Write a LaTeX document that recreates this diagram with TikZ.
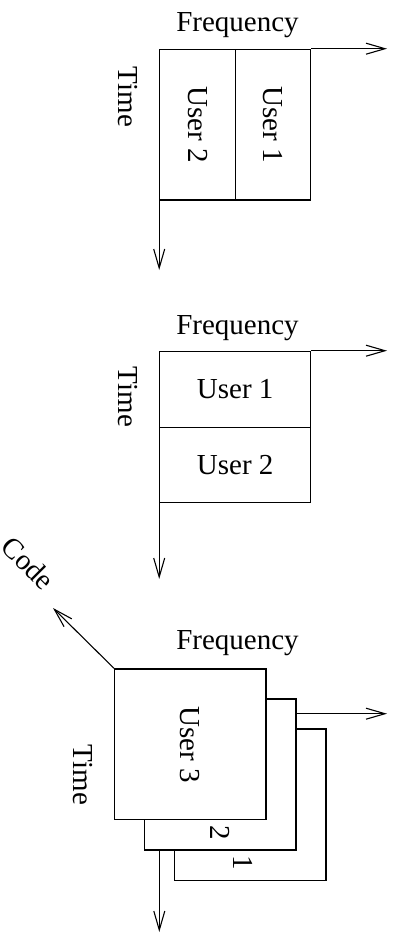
\documentclass[tikz,border=0pt]{standalone}
\usepackage{fontspec}
\setmainfont{Liberation Serif}
\usetikzlibrary{arrows.meta}
\begin{document}
\begin{tikzpicture}[x=1pt,y=-1pt,
  box/.style={draw,line width=1.2pt,fill=white,inner sep=0pt,anchor=north west},
  arr/.style={line width=1.1pt,-{Straight Barb[length=19pt,width=11pt,line width=1.1pt]}},
  lbl/.style={font=\fontsize{29}{32}\selectfont,inner sep=0pt},
  vlbl/.style={lbl,rotate=-90}]
\useasboundingbox (0,0) rectangle (394,934);
% ---------- top: frequency division ----------
\node[box,minimum width=75.5pt,minimum height=150.6pt] (tu2) at (159.2,48.7) {};
\node[box,minimum width=75.5pt,minimum height=150.6pt] (tu1) at (234.7,48.7) {};
\coordinate (tfe) at (387,48.7);
\coordinate (tte) at (159.2,270);
\draw[arr] (tu1.north east) -- (tfe);
\draw[arr] (tu2.south west) -- (tte);
\node[lbl] (tfreq) at (237.5,25) {Frequency};
\node[vlbl] (ttime) at (128,97) {Time};
\node[vlbl] (tl2) at (tu2.center) {User 2};
\node[vlbl] (tl1) at (tu1.center) {User 1};
% ---------- middle: time division ----------
\node[box,minimum width=150.8pt,minimum height=76pt] (mu1) at (159.2,350.7) {};
\node[box,minimum width=150.8pt,minimum height=75pt] (mu2) at (159.2,426.7) {};
\coordinate (mfe) at (387,350.7);
\coordinate (mte) at (159.2,579);
\draw[arr] (mu1.north east) -- (mfe);
\draw[arr] (mu2.south west) -- (mte);
\node[lbl] (mfreq) at (237.5,328) {Frequency};
\node[vlbl] (mtime) at (128,397) {Time};
\node[lbl] (ml1) at (mu1.center) {User 1};
\node[lbl] (ml2) at (mu2.center) {User 2};
% ---------- bottom: code division ----------
\node[box,minimum width=151.3pt,minimum height=151.4pt] (c1) at (174,728.3) {};
\node[box,minimum width=151.3pt,minimum height=151pt] (c2) at (144,698.3) {};
\node[box,minimum width=151.3pt,minimum height=150.7pt] (c3) at (114,668.3) {};
\coordinate (cfs) at (295.3,713.7);
\coordinate (cfe) at (387,713.7);
\coordinate (cts) at (159.3,849.3);
\coordinate (cte) at (159.3,932);
\coordinate (cce) at (53,608);
\draw[arr] (cfs) -- (cfe);
\draw[arr] (cts) -- (cte);
\draw[arr] (c3.north west) -- (cce);
\node[lbl] (cfreq) at (237.5,643) {Frequency};
\node[vlbl] (ctime) at (82.7,775) {Time};
\node[vlbl] (cl3) at (190,745) {User 3};
\node[vlbl] (cl2) at (220,833) {2};
\node[vlbl] (cl1) at (243,863) {1};
\node[lbl,rotate=-45] (ccode) at (28,563) {Code};
\end{tikzpicture}
\end{document}
